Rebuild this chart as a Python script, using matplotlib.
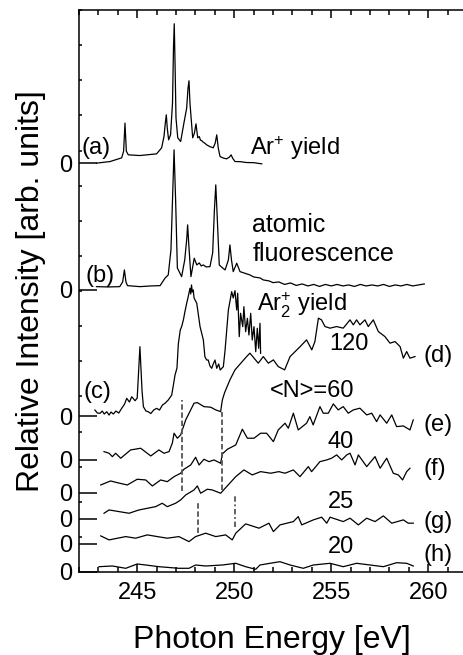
import matplotlib
matplotlib.use("Agg")
import matplotlib.pyplot as plt
import numpy as np
from matplotlib.ticker import MultipleLocator

plt.rcParams["font.family"] = ["Liberation Sans", "DejaVu Sans"]
plt.rcParams["mathtext.fontset"] = "custom"
plt.rcParams["mathtext.rm"] = "Liberation Sans"
plt.rcParams["mathtext.it"] = "Liberation Sans:italic"
plt.rcParams["mathtext.default"] = "regular"

# ---- data (photon energy [eV], intensity [arb. units]) ----
e_a = [242.9, 243.6, 244.2, 244.3, 244.37, 244.44, 244.54, 245.14, 245.6, 246.0,
       246.26, 246.38, 246.45, 246.5, 246.55, 246.62, 246.72, 246.82, 246.87, 246.91,
       246.95, 247.0, 247.09, 247.24, 247.41, 247.55, 247.62, 247.67, 247.72, 247.86,
       247.95, 248.03, 248.12, 248.2, 248.26, 248.32, 248.4, 248.48, 248.58, 248.75,
       248.92, 249.02, 249.1, 249.18, 249.27, 249.45, 249.61, 249.75, 249.84, 249.92,
       250.04, 250.3, 250.64, 251.0, 251.42]
i_a = [0, 1.6, 5.3, 12, 40, 12, 8.3, 7.6, 8.5, 9.3,
       15.3, 26.6, 40, 48.3, 35, 23.3, 28.3, 60, 115, 139.3,
       100, 45, 25.3, 21.6, 40.3, 55, 75, 82.3, 60, 25.3,
       30, 39.3, 25.3, 26.6, 23, 22.6, 21, 20, 18.3, 16.5,
       15.3, 20, 28.3, 15, 6.6, 5, 4.3, 6, 8.3, 5,
       1.6, 1.5, 0.6, 0.5, -0.7]

e_b = [242.9, 243.5, 244.1, 244.25, 244.34, 244.42, 244.5, 245.14, 245.7, 246.18,
       246.43, 246.6, 246.74, 246.82, 246.9, 246.98, 247.07, 247.29, 247.45, 247.55,
       247.6, 247.66, 247.77, 247.94, 248.07, 248.2, 248.3, 248.41, 248.55, 248.75,
       248.89, 248.98, 249.05, 249.12, 249.23, 249.4, 249.53, 249.7, 249.78, 249.86,
       249.95, 250.13, 250.3, 250.5, 250.81, 251.0, 251.33, 251.5, 251.8, 252.0,
       252.3, 252.6, 252.9, 253.2, 253.5, 253.8, 254.1, 254.4, 254.7, 255.0,
       255.3, 255.6, 255.9, 256.2, 256.5, 256.8, 257.1, 257.4, 257.7, 258.0,
       258.3, 258.6, 258.9, 259.2, 259.5, 259.8]
i_b = [3.3, 3, 3.3, 8, 20, 8, 4.3, 3.3, 4, 4.3,
       11.7, 15, 40, 90, 140, 90, 22, 13.3, 30, 50,
       65, 45, 13.3, 31.7, 25, 27, 24, 25, 23, 23.3,
       37, 80, 105, 75, 25, 22, 20, 30, 45, 30,
       18.3, 26.7, 18.3, 17, 15, 13, 12, 10, 9, 7.3,
       8, 5.5, 7, 4.5, 6, 4, 5.5, 3.5, 5.5, 4,
       5.5, 4, 5, 3.5, 5.5, 4, 5, 4, 5.5, 3.5,
       5, 4, 5.5, 4, 5, 6]

e_c = [242.82, 242.95, 243.08, 243.2, 243.3, 243.43, 243.55, 243.65, 243.77, 243.9,
       244.05, 244.2, 244.35, 244.46, 244.6, 244.72, 244.89, 245.0, 245.14, 245.25,
       245.32, 245.45, 245.57, 245.7, 245.85, 246.0, 246.15, 246.3, 246.43, 246.6,
       246.78, 246.95, 247.05, 247.12, 247.22, 247.29, 247.38, 247.46, 247.55, 247.63,
       247.72, 247.76, 247.8, 247.84, 247.89, 247.93, 248.07, 248.24, 248.41, 248.49,
       248.58, 248.66, 248.75, 248.84, 248.92, 249.01, 249.1, 249.2, 249.28, 249.36,
       249.44, 249.53, 249.7, 249.87, 249.95, 250.04, 250.13, 250.18, 250.26, 250.33,
       250.44, 250.5, 250.59, 250.68, 250.76, 250.85, 250.93, 251.02, 251.11, 251.19,
       251.26, 251.33, 251.36]
i_c = [6, 3, 2.7, 5, 2, 4.3, 1, 4, 2, 5,
       3, 7.7, 12, 17.7, 14, 19.3, 15.3, 18, 69.3, 25,
       9.3, 5, 4.3, 2.5, 6, 7.7, 6, 11, 12.7, 16,
       21, 41, 48, 72, 86, 89.3, 96, 104.3, 112.7, 119.3,
       127.7, 122, 131, 124, 126, 118, 112.7, 89.3, 76, 59.3,
       56, 56, 50, 47.7, 52, 56, 47.7, 52, 46, 47.7,
       49.3, 66, 106, 124.3, 118, 125.3, 106, 122.7, 79.3, 102.7,
       89.3, 109.3, 84.3, 97.7, 81, 102.7, 76, 89.3, 64.3, 87.7,
       67.7, 92.7, 62.7]

e_d = [243.29, 243.55, 243.72, 243.89, 244.15, 244.66, 245.18, 245.7, 246.12, 246.38,
       246.64, 246.81, 246.9, 247.07, 247.24, 247.5, 247.93, 248.1, 248.44, 248.79,
       249.05, 249.3, 249.39, 249.5, 249.78, 250.04, 250.64, 250.81, 251.24, 251.5,
       251.76, 252.02, 252.27, 252.6, 252.88, 253.4, 253.73, 254.0, 254.16, 254.34,
       254.5, 254.68, 254.94, 255.28, 255.62, 255.97, 256.14, 256.31, 256.48, 256.74,
       256.91, 257.17, 257.43, 257.77, 258.03, 258.29, 258.55, 258.72, 258.89, 259.06,
       259.32]
i_d = [8.3, 6.7, 3.3, 6.7, 1.7, 10, 11.7, 4, 10, 6.7,
       8.3, 16.7, 26.7, 21.7, 25, 40, 56.7, 57.3, 53.3, 52.7,
       50, 48.3, 60, 67, 80, 90, 103.3, 106.7, 96.7, 103.3,
       96.7, 100, 93.3, 90, 103.3, 113.3, 120, 110, 118.3, 141.7,
       140, 133.3, 131.7, 133.3, 131.7, 140, 135, 140, 135, 140,
       133.3, 140, 128.3, 123.3, 116.7, 118.3, 113.3, 101.7, 108.3, 101.7,
       103.3]

e_e = [243.12, 243.63, 243.97, 244.49, 245.0, 245.44, 245.78, 246.21, 246.55, 246.9,
       247.24, 247.41, 247.76, 248.01, 248.19, 248.44, 248.7, 248.96, 249.3, 249.39,
       249.65, 250.08, 250.42, 250.68, 251.02, 251.36, 251.67, 252.02, 252.27, 252.62,
       252.79, 253.05, 253.3, 253.73, 253.9, 254.07, 254.42, 254.59, 254.85, 255.11,
       255.36, 255.62, 255.88, 256.14, 256.48, 256.83, 257.09, 257.34, 257.52, 257.86,
       258.12, 258.37, 258.72, 259.06, 259.23]
i_e = [8, 12, 10.3, 8, 13.7, 13, 7, 13, 11.3, 16.3,
       19.7, 23.7, 28, 35.7, 28, 33.7, 31.3, 33, 29.7, 39,
       43.7, 48, 63.7, 54.7, 54.7, 59.7, 59.7, 51.3, 63, 69.7,
       64.7, 79.7, 63, 69.7, 76.3, 68, 86.3, 79.7, 79.7, 89,
       83, 86.3, 79.7, 83, 84.7, 78, 79.7, 71.3, 78, 69.7,
       78, 66.3, 67, 63, 73]

e_f = [243.29, 243.55, 244.58, 245.09, 245.95, 246.29, 246.55, 246.98, 247.24, 247.5,
       247.93, 248.1, 248.27, 248.61, 248.87, 249.3, 250.08, 250.5, 250.93, 251.36,
       251.88, 252.3, 252.62, 253.05, 253.39, 253.82, 253.99, 254.42, 254.77, 255.02,
       255.28, 255.54, 255.8, 255.97, 256.23, 256.4, 256.83, 257.26, 257.52, 257.86,
       258.2, 258.46, 258.68, 258.89, 259.06]
i_f = [5.7, 9, 5.7, 9, 12.3, 15.7, 12.3, 15.7, 19, 24,
       29, 33, 25.7, 29.7, 29, 25.7, 42.3, 49, 44, 47.3,
       45.7, 47.3, 45.7, 49, 42.3, 52.3, 47.3, 57.3, 59, 60.7,
       64, 59, 64, 65.7, 54, 64, 52.3, 62.3, 50.7, 60.7,
       45.7, 44, 39, 47.3, 50.7]

e_g = [243.12, 243.55, 244.41, 244.92, 245.52, 246.04, 246.55, 247.15, 247.67, 248.01,
       248.53, 249.05, 249.56, 249.9, 250.08, 250.59, 251.28, 251.79, 252.02, 252.36,
       253.05, 253.3, 253.48, 254.08, 254.51, 254.77, 254.94, 255.62, 255.97, 256.4,
       256.83, 257.26, 257.69, 258.12, 258.72, 258.97, 259.23]
i_g = [8, 4, 7.3, 5.7, 9, 7.3, 5.7, 7.3, 2.3, 7.3,
       10.7, 7.3, 9, 4, 10.7, 20, 15.7, 20.7, 12.3, 19,
       22.3, 27.3, 19, 24, 26.7, 20.7, 26.7, 22.3, 25.7, 19,
       25.7, 22.3, 28, 20.7, 24, 20.7, 20.7]

e_h = [243.03, 243.72, 244.41, 245.0, 245.44, 246.12, 247.15, 247.67, 248.01, 248.53,
       249.39, 250.08, 250.59, 251.11, 251.33, 251.85, 252.36, 252.88, 253.56, 254.08,
       254.94, 255.62, 256.31, 257.0, 257.69, 258.37, 258.89, 259.23]
i_h = [5.3, 6, 3.7, 8, 7, 5.3, 3.7, 3.7, 7, 6,
       7, 8.7, 5.3, 2.7, 7, 8.7, 10.3, 7, 3.7, 7,
       8.7, 5.3, 8.7, 7, 5.3, 9.3, 8.7, 6]

curve_energy = [e_a, e_b, e_c, e_d, e_e, e_f, e_g, e_h]
curve_intensity = [i_a, i_b, i_c, i_d, i_e, i_f, i_g, i_h]
curve_offset = [11.64, 8.03, 4.44, 3.19, 2.25, 1.51, 0.80, 0.0]
intensity_scale = 35.1  # arb. units per minor tick

# step markers (dashed guides)
dash_e = [247.29, 249.36, 248.13, 250.02]
dash_lo = [2.31, 2.34, 1.10, 1.29]
dash_hi = [4.90, 4.56, 2.00, 2.19]
dash_style = [(0, (3, 1.5)), (0, (3, 1.5)), (0, (3, 1.5)), (0, (3, 1.5, 1, 1.5))]

fig = plt.figure(figsize=(4.64, 6.55), dpi=100)
ax = fig.add_axes([79 / 464, 83 / 655, 388 / 464, 562 / 655])

for en, inten, off in zip(curve_energy, curve_intensity, curve_offset):
    ax.plot(en, off + np.asarray(inten) / intensity_scale, color="black", lw=0.9)

for x, lo, hi, ls in zip(dash_e, dash_lo, dash_hi, dash_style):
    ax.plot([x, x], [lo, hi], color="#555555", lw=1.3, linestyle=ls)

ax.set_xlim(242, 262)
ax.set_ylim(0, 16)
ax.set_xticks([245, 250, 255, 260])
ax.xaxis.set_minor_locator(MultipleLocator(1))
ax.set_yticks(curve_offset, ["0"] * len(curve_offset))
ax.yaxis.set_minor_locator(MultipleLocator(1))
ax.tick_params(axis="x", which="both", direction="in", top=True, bottom=True,
               labelsize=17, pad=7, width=1.1)
ax.tick_params(axis="x", which="major", length=6)
ax.tick_params(axis="x", which="minor", length=3.6)
ax.tick_params(axis="y", which="both", direction="in", left=True, right=False,
               labelsize=17, pad=5, width=1.1)
ax.tick_params(axis="y", which="major", length=13)
ax.tick_params(axis="y", which="minor", length=2.2)
for s in ax.spines.values():
    s.set_linewidth(1.1)

fs = 17
ax.text(242.14, 11.90, "(a)", fontsize=fs, va="baseline")
ax.text(250.81, 11.87, "Ar$^{+}$ yield", fontsize=fs, va="baseline")
ax.text(250.93, 9.69, "atomic", fontsize=18, va="baseline")
ax.text(250.93, 8.85, "fluorescence", fontsize=18, va="baseline")
ax.text(242.31, 8.27, "(b)", fontsize=fs, va="baseline")
ax.text(251.16, 7.41, "Ar$_{2}^{+}$ yield", fontsize=fs, va="baseline")
ax.text(242.22, 4.94, "(c)", fontsize=fs, va="baseline")
ax.text(255.89, 6.32, "120", fontsize=fs, va="baseline", ha="center")
ax.text(254.04, 4.99, "<N>=60", fontsize=fs, va="baseline", ha="center")
ax.text(255.47, 3.52, "40", fontsize=fs, va="baseline", ha="center")
ax.text(255.51, 1.81, "25", fontsize=fs, va="baseline", ha="center")
ax.text(255.51, 0.53, "20", fontsize=fs, va="baseline", ha="center")
for lab, yb in zip(["(d)", "(e)", "(f)", "(g)", "(h)"], [5.99, 4.0, 2.76, 1.25, 0.30]):
    ax.text(259.75, yb, lab, fontsize=fs, va="baseline")

fig.text(30.9 / 464, 1 - 291 / 655, "Relative Intensity [arb. units]", fontsize=23,
         rotation=90, ha="center", va="center")
fig.text(271.5 / 464, 1 - 648 / 655, "Photon Energy [eV]", fontsize=23,
         ha="center", va="baseline")

fig.savefig("out.png", dpi=100)
